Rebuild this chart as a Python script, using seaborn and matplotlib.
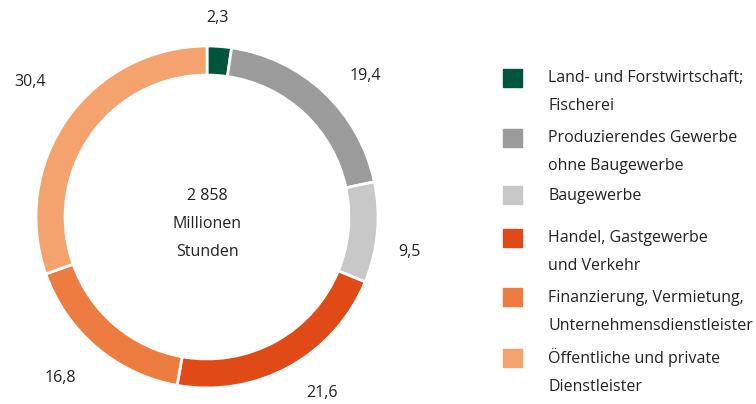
import matplotlib
matplotlib.use("Agg")
import numpy as np
import matplotlib.pyplot as plt
import seaborn as sns
from matplotlib.patches import Rectangle

sns.set_style("white")
plt.rcParams['font.family'] = ['Open Sans', 'DejaVu Sans']

sectors = ['Land- und Forstwirtschaft;\nFischerei',
           'Produzierendes Gewerbe\nohne Baugewerbe',
           'Baugewerbe',
           'Handel, Gastgewerbe\nund Verkehr',
           'Finanzierung, Vermietung,\nUnternehmensdienstleister',
           'Öffentliche und private\nDienstleister']
shares = [2.3, 19.4, 9.5, 21.6, 16.8, 30.4]
share_labels = ['2,3', '19,4', '9,5', '21,6', '16,8', '30,4']
colors = ['#00553d', '#9b9b9c', '#c8c8c9', '#e04a17', '#ec7c3f', '#f4a36e']
total_text = '2 858\nMillionen\nStunden'

# value label placement: distance (pie radii) and angle nudge (deg) per wedge
label_dist = [1.165, 1.24, 1.2, 1.23, 1.275, 1.3]
label_nudge = [1, -5, -4.5, 4.5, -2, -2]

fig = plt.figure(figsize=(7.56, 4.04), dpi=100)
ax = fig.add_axes([36 / 756, 16 / 404, 342 / 756, 342 / 404])

wedges, texts = ax.pie(shares, colors=colors, startangle=90, counterclock=False,
                       labels=share_labels, labeldistance=1.23,
                       wedgeprops=dict(width=0.17, edgecolor='white', linewidth=2),
                       textprops=dict(fontsize=11.5, color='#222222'))
for w, t, d, n in zip(wedges, texts, label_dist, label_nudge):
    ang = np.deg2rad((w.theta1 + w.theta2) / 2 + n)
    t.set_position((d * np.cos(ang), d * np.sin(ang)))
    t.set_ha('center')
    t.set_va('center')
    t.set_clip_on(False)
ax.set_xlim(-1, 1)
ax.set_ylim(-1, 1)
ax.set_aspect('equal')
ax.axis('off')

ax.text(0.0, -0.04, total_text, ha='center', va='center', fontsize=11.5,
        color='#222222', linespacing=2.0)

# legend drawn by hand to keep the uneven spacing of the original
square_y = [78, 138, 195, 238, 297, 358]
text_y = [80, 140, 198, 240, 300, 358]
for c, lab, sy, ty in zip(colors, sectors, square_y, text_y):
    fig.patches.append(Rectangle((503 / 756, 1 - (sy + 9) / 404), 19 / 756, 18 / 404,
                                 transform=fig.transFigure, color=c))
    fig.text(548 / 756, 1 - (ty - 10) / 404, lab, ha='left', va='top',
             fontsize=11.5, color='#222222', linespacing=2.0)

fig.savefig('out.png', dpi=100)
